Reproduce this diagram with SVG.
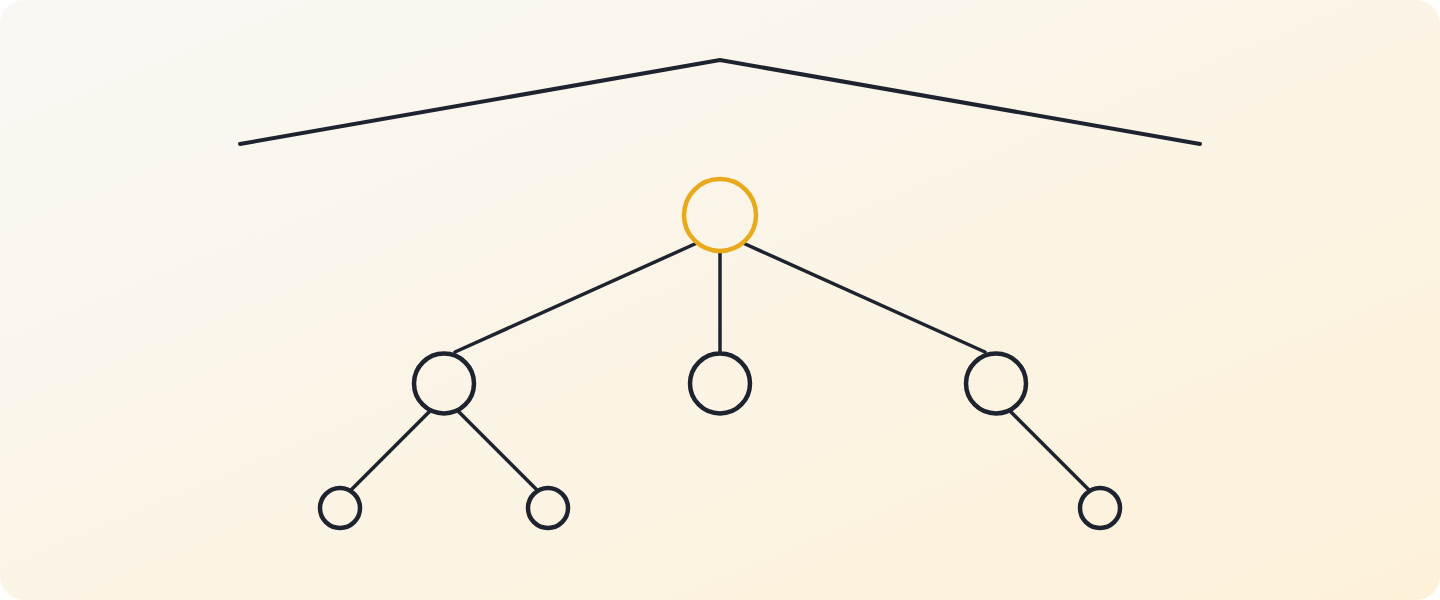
<svg xmlns="http://www.w3.org/2000/svg" width="1440" height="600" viewBox="0 0 1440 600">
<defs>
<linearGradient id="bg" x1="0" y1="0" x2="1" y2="1">
<stop offset="0" stop-color="#f9f8f4"/>
<stop offset="1" stop-color="#fdf1d8"/>
</linearGradient>
<style>
.edge{stroke:#1e2330;stroke-width:3.5;stroke-linecap:round;fill:none}
.roof{stroke:#1e2330;stroke-width:4;stroke-linecap:round;stroke-linejoin:round;fill:none}
.node{fill:none;stroke:#1e2330;stroke-width:4.5}
.root{fill:none;stroke:#e9a91c;stroke-width:4.5}
</style>
</defs>
<rect x="0" y="0" width="1440" height="600" fill="#ffffff"/>
<rect x="0" y="0" width="1440" height="600" rx="24" fill="url(#bg)"/>
<g id="connectors">
<polyline class="roof" points="240,144 720,60 1200,144"/>
<line class="edge" x1="697" y1="243" x2="455" y2="352"/>
<line class="edge" x1="720" y1="251" x2="720" y2="353"/>
<line class="edge" x1="743" y1="243" x2="985" y2="352"/>
<line class="edge" x1="429" y1="412" x2="351" y2="490"/>
<line class="edge" x1="459" y1="412" x2="537" y2="490"/>
<line class="edge" x1="1011" y1="412" x2="1089" y2="490"/>
</g>
<g id="root"><circle class="root" cx="720" cy="215" r="36"/></g>
<g id="child-left"><circle class="node" cx="444" cy="383.5" r="30"/></g>
<g id="child-middle"><circle class="node" cx="720" cy="383.5" r="30"/></g>
<g id="child-right"><circle class="node" cx="996" cy="383.5" r="30"/></g>
<g id="leaf-1"><circle class="node" cx="340" cy="508" r="20"/></g>
<g id="leaf-2"><circle class="node" cx="548" cy="508" r="20"/></g>
<g id="leaf-3"><circle class="node" cx="1100" cy="508" r="20"/></g>
</svg>
